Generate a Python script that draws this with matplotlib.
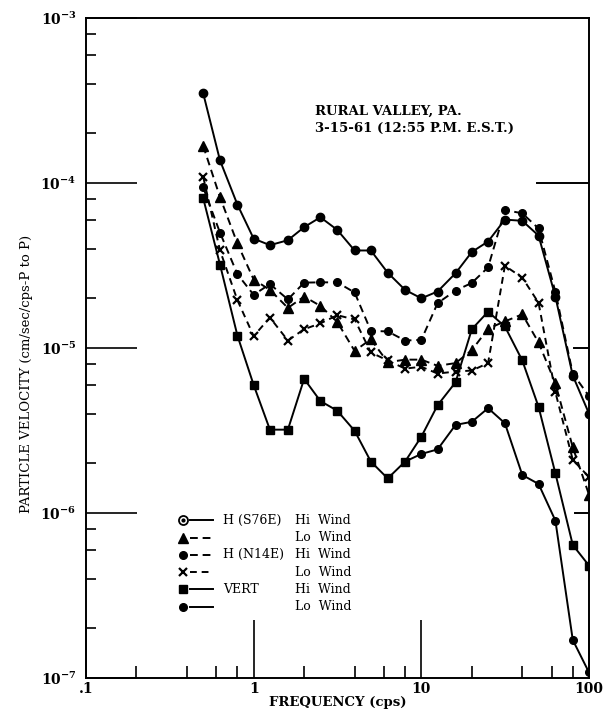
import math
import matplotlib
matplotlib.use('Agg')
import matplotlib.pyplot as plt
from matplotlib.ticker import LogLocator, FixedLocator, FuncFormatter, NullFormatter

plt.rcParams['font.family'] = ['DejaVu Serif']
plt.rcParams['mathtext.fontset'] = 'dejavuserif'

# third-octave frequencies (cps)
freq = [0.5, 0.63, 0.8, 1.0, 1.25, 1.6, 2.0, 2.5, 3.15, 4.0, 5.0, 6.3,
        8.0, 10, 12.5, 16, 20, 25, 31.5, 40, 50, 63, 80, 100]
freq_vert_lo = [8.0, 10, 12.5, 16, 20, 25, 31.5, 40, 50, 63, 80, 100]

# particle velocity (cm/sec/cps, P to P)
s76e_hi = [3.5e-4, 1.37e-4, 7.4e-5, 4.6e-5, 4.2e-5, 4.5e-5, 5.4e-5, 6.2e-5, 5.2e-5, 3.9e-5, 3.9e-5, 2.86e-5,
           2.25e-5, 2.0e-5, 2.2e-5, 2.84e-5, 3.82e-5, 4.42e-5, 6.0e-5, 5.9e-5, 4.8e-5, 2.05e-5, 6.8e-6, 4.0e-6]
s76e_lo = [1.68e-4, 8.2e-5, 4.3e-5, 2.6e-5, 2.25e-5, 1.75e-5, 2.05e-5, 1.8e-5, 1.44e-5, 9.6e-6, 1.13e-5, 8.2e-6,
           8.5e-6, 8.5e-6, 7.8e-6, 8.1e-6, 9.7e-6, 1.31e-5, 1.45e-5, 1.6e-5, 1.08e-5, 6.1e-6, 2.5e-6, 1.29e-6]
n14e_hi = [9.4e-5, 5.0e-5, 2.8e-5, 2.1e-5, 2.44e-5, 1.97e-5, 2.49e-5, 2.5e-5, 2.5e-5, 2.17e-5, 1.27e-5, 1.26e-5,
           1.11e-5, 1.12e-5, 1.87e-5, 2.23e-5, 2.48e-5, 3.08e-5, 6.86e-5, 6.55e-5, 5.3e-5, 2.19e-5, 7.0e-6, 5.1e-6]
n14e_lo = [1.09e-4, 3.9e-5, 1.95e-5, 1.18e-5, 1.53e-5, 1.11e-5, 1.3e-5, 1.41e-5, 1.58e-5, 1.49e-5, 9.4e-6, 8.4e-6,
           7.5e-6, 7.7e-6, 7.0e-6, 7.2e-6, 7.3e-6, 8.1e-6, 3.15e-5, 2.67e-5, 1.88e-5, 5.4e-6, 2.1e-6, 1.65e-6]
vert_hi = [8.1e-5, 3.2e-5, 1.19e-5, 5.97e-6, 3.2e-6, 3.2e-6, 6.5e-6, 4.77e-6, 4.17e-6, 3.15e-6, 2.05e-6, 1.62e-6,
           2.05e-6, 2.9e-6, 4.5e-6, 6.2e-6, 1.3e-5, 1.66e-5, 1.35e-5, 8.4e-6, 4.4e-6, 1.74e-6, 6.4e-7, 4.8e-7]
vert_lo = [2.05e-6, 2.28e-6, 2.43e-6, 3.42e-6, 3.57e-6, 4.32e-6, 3.5e-6, 1.7e-6, 1.5e-6, 9.0e-7, 1.7e-7, 1.08e-7]

legend_names = ['H (S76E)', '', 'H (N14E)', '', 'VERT', '']
legend_winds = ['Hi  Wind', 'Lo  Wind', 'Hi  Wind', 'Lo  Wind', 'Hi  Wind', 'Lo  Wind']

fig = plt.figure(figsize=(6.08, 7.14), dpi=100)
ax = fig.add_axes([0.1414, 0.0504, 0.8274, 0.9244])

lw = 1.4
series = [
    (freq, s76e_hi, dict(marker='o', ms=6, ls='-')),
    (freq, s76e_lo, dict(marker='^', ms=6.5, dashes=(4, 2.5))),
    (freq, n14e_hi, dict(marker='o', ms=5.5, dashes=(4, 2.5))),
    (freq, n14e_lo, dict(marker='x', ms=6, mew=1.6, dashes=(3.5, 2.5))),
    (freq, vert_hi, dict(marker='s', ms=5.5, ls='-')),
    (freq_vert_lo, vert_lo, dict(marker='o', ms=5.5, ls='-')),
]
for x, y, st in series:
    ax.plot(x, y, color='black', lw=lw, **st)

ax.set_xscale('log')
ax.set_yscale('log')
ax.set_xlim(0.1, 100)
ax.set_ylim(1e-7, 1e-3)

for sp in ax.spines.values():
    sp.set_linewidth(1.4)

ax.xaxis.set_major_locator(FixedLocator([0.1, 1, 10, 100]))
ax.xaxis.set_minor_locator(LogLocator(base=10, subs=[2, 4, 6, 8]))
ax.xaxis.set_major_formatter(FuncFormatter(lambda v, p: '.1' if v < 0.5 else '%d' % v))
ax.xaxis.set_minor_formatter(NullFormatter())
ax.yaxis.set_major_locator(FixedLocator([1e-7, 1e-6, 1e-5, 1e-4, 1e-3]))
ax.yaxis.set_minor_locator(LogLocator(base=10, subs=[2, 4, 6, 8]))
ax.yaxis.set_major_formatter(FuncFormatter(lambda v, p: r'$\mathbf{10^{%d}}$' % round(math.log10(v))))
ax.yaxis.set_minor_formatter(NullFormatter())

ax.tick_params(axis='x', which='major', direction='in', length=42, width=1.2, pad=3, labelsize=10)
ax.tick_params(axis='x', which='minor', direction='in', length=8.5, width=1.2)
ax.tick_params(axis='y', which='major', direction='in', length=37, width=1.2, pad=7, labelsize=10)
ax.tick_params(axis='y', which='minor', direction='in', length=7.5, width=1.2)
for t in ax.get_xticklabels():
    t.set_fontweight('bold')

# right-hand decade ticks
for level, frac in [(1e-4, 0.103), (1e-5, 0.03), (1e-6, 0.028)]:
    ax.axhline(level, xmin=1 - frac, xmax=1, color='black', lw=1.4)

ax.set_xlabel('FREQUENCY (cps)', fontsize=9.5, fontweight='bold', labelpad=0)
ax.set_ylabel('PARTICLE VELOCITY (cm/sec/cps-P to P)', fontsize=9.5)
ax.yaxis.set_label_coords(-0.105, 0.46)

ax.text(0.455, 0.858, 'RURAL VALLEY, PA.', transform=ax.transAxes, fontsize=9.5,
        fontweight='semibold', va='center', ha='left')
ax.text(0.455, 0.833, '3-15-61 (12:55 P.M. E.S.T.)', transform=ax.transAxes, fontsize=9.5,
        fontweight='semibold', va='center', ha='left')

# legend drawn as rows: marker, short line, names
row_y0, row_step = 0.239, 0.0262
for i, (x, y, st) in enumerate(series):
    yy = row_y0 - i * row_step
    line_kw = {k: v for k, v in st.items() if k in ('ls', 'dashes')}
    ax.plot([0.207, 0.252], [yy, yy], transform=ax.transAxes, color='black', lw=lw, **line_kw)
    if i == 0:
        # first key is drawn as a dotted circle
        ax.plot([0.192], [yy], transform=ax.transAxes, color='black', ls='none',
                marker='o', ms=6.5, mfc='white', mew=1.3)
        ax.plot([0.192], [yy], transform=ax.transAxes, color='black', ls='none', marker='o', ms=2)
    else:
        ax.plot([0.192], [yy], transform=ax.transAxes, color='black', ls='none',
                marker=st['marker'], ms=st['ms'], mew=st.get('mew', 1.0))
    ax.text(0.272, yy, legend_names[i], transform=ax.transAxes, fontsize=9, va='center', ha='left')
    ax.text(0.416, yy, legend_winds[i], transform=ax.transAxes, fontsize=9, va='center', ha='left')

fig.savefig('out.png', dpi=100)
